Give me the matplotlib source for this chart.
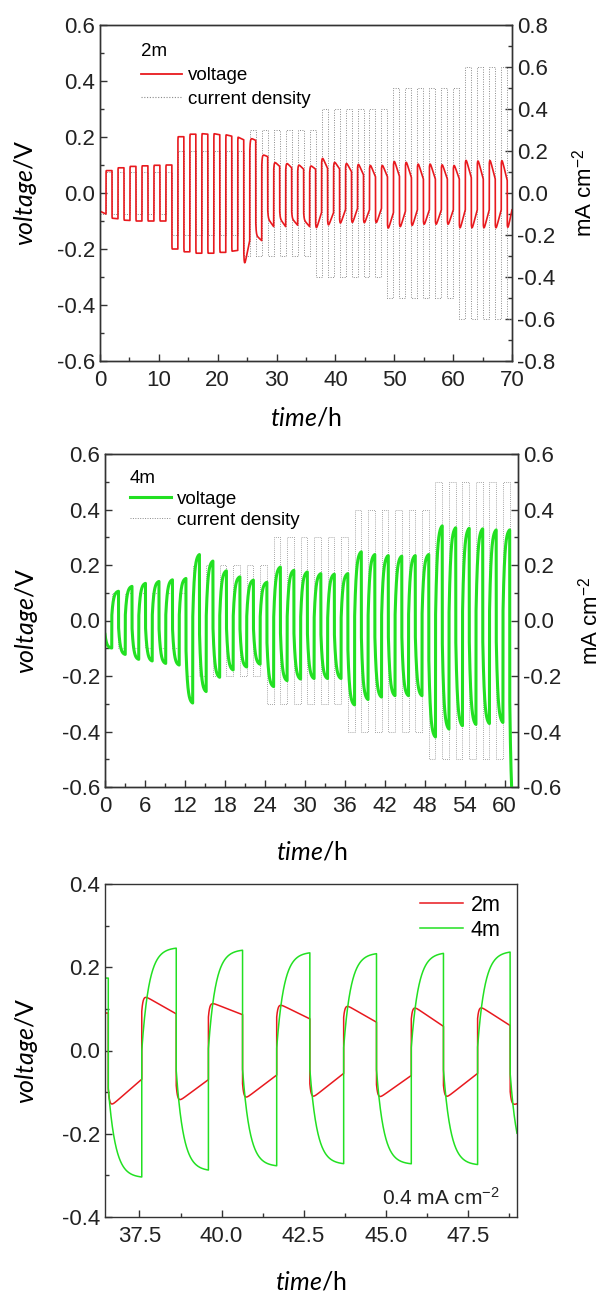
import numpy as np
import matplotlib.pyplot as plt
from matplotlib.lines import Line2D
from matplotlib.ticker import MultipleLocator, FormatStrFormatter

plt.rcParams['font.family'] = ['Liberation Sans', 'DejaVu Sans']
plt.rcParams['mathtext.fontset'] = 'custom'
plt.rcParams['mathtext.rm'] = 'Liberation Sans'
plt.rcParams['mathtext.it'] = 'Lato:italic'

# ---------------- datos ----------------
# densidad de corriente (mA cm-2), seis ciclos por escalón
niveles = [0.1, 0.2, 0.3, 0.4, 0.5, 0.6]

# 2m: periodo de ciclo (h) y extremos de cada semiciclo (V)
periodo_2m = 2.035
neg_pico_2m = [-0.065, -0.09, -0.097, -0.10, -0.10, -0.10,
               -0.20, -0.21, -0.215, -0.215, -0.212, -0.208,
               -0.275, -0.15, -0.09, -0.09, -0.09, -0.095,
               -0.139, -0.127, -0.121, -0.119, -0.119, -0.119,
               -0.14, -0.135, -0.13, -0.125, -0.125, -0.125,
               -0.14, -0.14, -0.14, -0.14, -0.14]
neg_fin_2m = [-0.075, -0.092, -0.098, -0.10, -0.10, -0.10,
              -0.20, -0.21, -0.215, -0.215, -0.212, -0.205,
              -0.17, -0.17, -0.12, -0.12, -0.115, -0.12,
              -0.069, -0.07, -0.059, -0.055, -0.06, -0.055,
              -0.07, -0.065, -0.06, -0.06, -0.06, -0.06,
              -0.06, -0.06, -0.06, -0.06, -0.04]
pos_pico_2m = [0.08, 0.09, 0.095, 0.097, 0.099, 0.10,
               0.201, 0.21, 0.212, 0.212, 0.208, 0.20,
               0.198, 0.139, 0.115, 0.112, 0.106, 0.102,
               0.135, 0.118, 0.115, 0.113, 0.11, 0.11,
               0.127, 0.124, 0.117, 0.117, 0.114, 0.111,
               0.132, 0.13, 0.132, 0.132]
pos_fin_2m = [0.08, 0.09, 0.095, 0.097, 0.099, 0.10,
              0.201, 0.21, 0.21, 0.208, 0.203, 0.19,
              0.188, 0.13, 0.095, 0.09, 0.085, 0.085,
              0.088, 0.086, 0.076, 0.065, 0.058, 0.058,
              0.06, 0.055, 0.05, 0.05, 0.05, 0.05,
              0.055, 0.05, 0.05, 0.045]

# 4m: periodo y valor al final de cada semiciclo (V)
periodo_4m = 2.025
neg_fin_4m = [-0.100, -0.124, -0.142, -0.148, -0.157, -0.163,
              -0.301, -0.260, -0.208, -0.181, -0.170, -0.160,
              -0.241, -0.220, -0.214, -0.212, -0.212, -0.212,
              -0.308, -0.289, -0.280, -0.275, -0.275, -0.275,
              -0.425, -0.397, -0.385, -0.380, -0.377, -0.373,
              -0.75]
pos_fin_4m = [0.107, 0.125, 0.136, 0.143, 0.149, 0.154,
              0.242, 0.218, 0.182, 0.160, 0.148, 0.140,
              0.196, 0.184, 0.178, 0.172, 0.170, 0.172,
              0.252, 0.242, 0.238, 0.236, 0.238, 0.242,
              0.347, 0.340, 0.338, 0.336, 0.332, 0.332]

# detalle a 0.4 mA cm-2 (36.5 - 49 h)
t_bajada = [36.55, 38.62, 40.64, 42.69, 44.72, 46.76, 48.79]
t_subida = [37.57, 39.60, 41.68, 43.72, 45.78, 47.80]
rojo_pos_pico = [0.135, 0.118, 0.115, 0.113, 0.11, 0.11]
rojo_pos_fin = [0.088, 0.086, 0.076, 0.068, 0.058, 0.06]
rojo_neg_pico = [-0.139, -0.127, -0.121, -0.119, -0.119, -0.119, -0.135]
rojo_neg_fin = [-0.069, -0.07, -0.059, -0.055, -0.06, -0.055, -0.128]
verde_pos_fin = [0.248, 0.243, 0.237, 0.235, 0.236, 0.239]
verde_neg_fin = [-0.306, -0.29, -0.279, -0.274, -0.274, -0.276, -0.29]

ROJO = '#e8191e'
VERDE = '#22e022'
GRIS = '#8a8a8a'


def intercalar(neg, pos):
    out = []
    for i in range(len(neg)):
        out.append(neg[i])
        if i < len(pos):
            out.append(pos[i])
    return out


def traza(bordes, v_pico, v_fin, v_ini, frac, tau, n=200):
    # salto óhmico + relajación exponencial + deriva lineal en cada semiciclo
    ts, vs = [], []
    prev = v_ini
    for i in range(len(v_pico)):
        a, b = bordes[i], bordes[i + 1]
        dur = b - a
        dt = np.linspace(0.0, dur, n)
        inicio = v_ini if i == 0 else prev + frac * (v_pico[i] - prev)
        v = (v_pico[i] + (v_fin[i] - v_pico[i]) * dt / dur
             + (inicio - v_pico[i]) * np.exp(-dt / tau[i]))
        ts.append(a + dt)
        vs.append(v)
        prev = v[-1]
    return np.concatenate(ts), np.concatenate(vs)


def corriente(bordes):
    n = len(bordes) - 1
    j = [(-1 if i % 2 == 0 else 1) * niveles[min(i // 12, 5)] for i in range(n)]
    return bordes, j + [j[-1]]


def estilo(ax, xmaj, xmin, ymaj, ymin):
    ax.xaxis.set_major_locator(MultipleLocator(xmaj))
    ax.xaxis.set_minor_locator(MultipleLocator(xmin))
    ax.yaxis.set_major_locator(MultipleLocator(ymaj))
    ax.yaxis.set_minor_locator(MultipleLocator(ymin))
    ax.yaxis.set_major_formatter(FormatStrFormatter('%.1f'))
    ax.tick_params(which='both', direction='in', labelsize=16, colors='#333333',
                   labelcolor='#222222', top=False)
    ax.tick_params(which='major', length=5, width=1)
    ax.tick_params(which='minor', length=3, width=1)
    ax.tick_params(axis='x', which='both', pad=6.5)
    for s in ax.spines.values():
        s.set_linewidth(1.0)
        s.set_color('#333333')


fig = plt.figure(figsize=(6.02, 12.98), dpi=100)
W, H = 602, 1298

# ---------------- panel 1: 2m ----------------
ax1 = fig.add_axes([100 / W, 1 - 361 / H, 412 / W, 336 / H])
ax1b = ax1.twinx()
ax1.set_zorder(ax1b.get_zorder() + 1)
ax1.patch.set_visible(False)

v_pico = intercalar(neg_pico_2m, pos_pico_2m)
v_fin = intercalar(neg_fin_2m, pos_fin_2m)
bordes = np.arange(len(v_pico) + 1) * periodo_2m / 2
tau = np.where(np.arange(len(v_pico)) < 24, 0.01, 0.08)
t, v = traza(bordes, v_pico, v_fin, -0.065, 0.85, tau)
ax1.plot(t, v, color=ROJO, lw=1.2)
tj, j = corriente(bordes)
ax1b.plot(tj, j, color=GRIS, lw=0.7, ls=(0, (1, 1.5)), drawstyle='steps-post')

ax1.set_xlim(0, 70)
ax1.set_ylim(-0.6, 0.6)
ax1b.set_ylim(-0.8, 0.8)
estilo(ax1, 10, 5, 0.2, 0.1)
estilo(ax1b, 10, 5, 0.2, 0.1)
ax1b.tick_params(which='both', right=True, left=False, labelright=True, labelleft=False)
ax1.tick_params(which='both', right=False)

ax1.set_ylabel(r'$\mathit{voltage}$/V', family='Lato', fontsize=18)
ax1.yaxis.set_label_coords(-0.148, 0.5)
ax1.set_xlabel(r'$\mathit{time}$/h', family='Lato', fontsize=18)
ax1.xaxis.set_label_coords(0.5, -0.135)
ax1b.set_ylabel(r'mA cm$^{-2}$', fontsize=16)
ax1b.yaxis.set_label_coords(1.146, 0.5)

h1 = [Line2D([], [], color=ROJO, lw=1.3),
      Line2D([], [], color=GRIS, lw=0.8, ls=(0, (1, 1.5)))]
ax1.legend(h1, ['voltage', 'current density'], title='2m', loc='upper left',
           bbox_to_anchor=(0.1, 0.945), frameon=False, fontsize=13.5, title_fontsize=13.5,
           alignment='left', handlelength=2.2, handletextpad=0.3, labelspacing=0.35,
           borderpad=0, borderaxespad=0)

# ---------------- panel 2: 4m ----------------
ax2 = fig.add_axes([105 / W, 1 - 787 / H, 413 / W, 333 / H])
ax2b = ax2.twinx()
ax2.set_zorder(ax2b.get_zorder() + 1)
ax2.patch.set_visible(False)

v_fin = intercalar(neg_fin_4m, pos_fin_4m)
bordes = np.arange(len(v_fin) + 1) * periodo_4m / 2
tau = np.full(len(v_fin), 0.25)
t, v = traza(bordes, v_fin, v_fin, -0.05, 0.55, tau)
ax2.plot(t, v, color=VERDE, lw=2.2)
tj, j = corriente(bordes)
ax2b.plot(tj, j, color=GRIS, lw=0.6, ls=(0, (1, 1.5)), drawstyle='steps-post')

ax2.set_xlim(0, 62)
ax2.set_ylim(-0.6, 0.6)
ax2b.set_ylim(-0.6, 0.6)
estilo(ax2, 6, 3, 0.2, 0.1)
estilo(ax2b, 6, 3, 0.2, 0.1)
ax2b.tick_params(which='both', right=True, left=False, labelright=True, labelleft=False)
ax2.tick_params(which='both', right=False)

ax2.set_ylabel(r'$\mathit{voltage}$/V', family='Lato', fontsize=18)
ax2.yaxis.set_label_coords(-0.157, 0.5)
ax2.set_xlabel(r'$\mathit{time}$/h', family='Lato', fontsize=18)
ax2.xaxis.set_label_coords(0.5, -0.16)
ax2b.set_ylabel(r'mA cm$^{-2}$', fontsize=16)
ax2b.yaxis.set_label_coords(1.145, 0.5)

h2 = [Line2D([], [], color=VERDE, lw=2.2),
      Line2D([], [], color=GRIS, lw=0.7, ls=(0, (1, 1.5)))]
ax2.legend(h2, ['voltage', 'current density'], title='4m', loc='upper left',
           bbox_to_anchor=(0.06, 0.952), frameon=False, fontsize=13.5, title_fontsize=13.5,
           alignment='left', handlelength=2.2, handletextpad=0.3, labelspacing=0.2,
           borderpad=0, borderaxespad=0)

# ---------------- panel 3: detalle 0.4 mA cm-2 ----------------
ax3 = fig.add_axes([105 / W, 1 - 1217 / H, 412 / W, 333 / H])
bordes_b = [36.45]
for k in range(len(t_bajada)):
    bordes_b.append(t_bajada[k])
    if k < len(t_subida):
        bordes_b.append(t_subida[k])
bordes_b.append(49.0)

v_pico = [0.09] + intercalar(rojo_neg_pico, rojo_pos_pico)
v_fin = [0.09] + intercalar(rojo_neg_fin, rojo_pos_fin)
t, v = traza(bordes_b, v_pico, v_fin, 0.09, 0.8, np.full(len(v_pico), 0.04))
ax3.plot(t, v, color=ROJO, lw=1.1, label='2m')

v_fin = [0.174] + intercalar(verde_neg_fin, verde_pos_fin)
t, v = traza(bordes_b, v_fin, v_fin, 0.174, 0.55, np.full(len(v_fin), 0.22))
ax3.plot(t, v, color=VERDE, lw=1.1, label='4m')

ax3.set_xlim(36.45, 49.0)
ax3.set_ylim(-0.4, 0.4)
estilo(ax3, 2.5, 1.25, 0.2, 0.1)
ax3.xaxis.set_major_formatter(FormatStrFormatter('%.1f'))
ax3.tick_params(which='both', right=False)

ax3.set_ylabel(r'$\mathit{voltage}$/V', family='Lato', fontsize=18)
ax3.yaxis.set_label_coords(-0.157, 0.5)
ax3.set_xlabel(r'$\mathit{time}$/h', family='Lato', fontsize=18)
ax3.xaxis.set_label_coords(0.5, -0.16)
ax3.legend(loc='upper right', bbox_to_anchor=(0.96, 0.968), frameon=False,
           fontsize=15.5, handlelength=2.0, handletextpad=0.35, labelspacing=0.2,
           borderpad=0, borderaxespad=0)
ax3.text(0.959, 0.036, r'0.4 mA cm$^{-2}$', transform=ax3.transAxes,
         ha='right', va='baseline', fontsize=15, color='#222222')

fig.savefig('out.png', dpi=100)
